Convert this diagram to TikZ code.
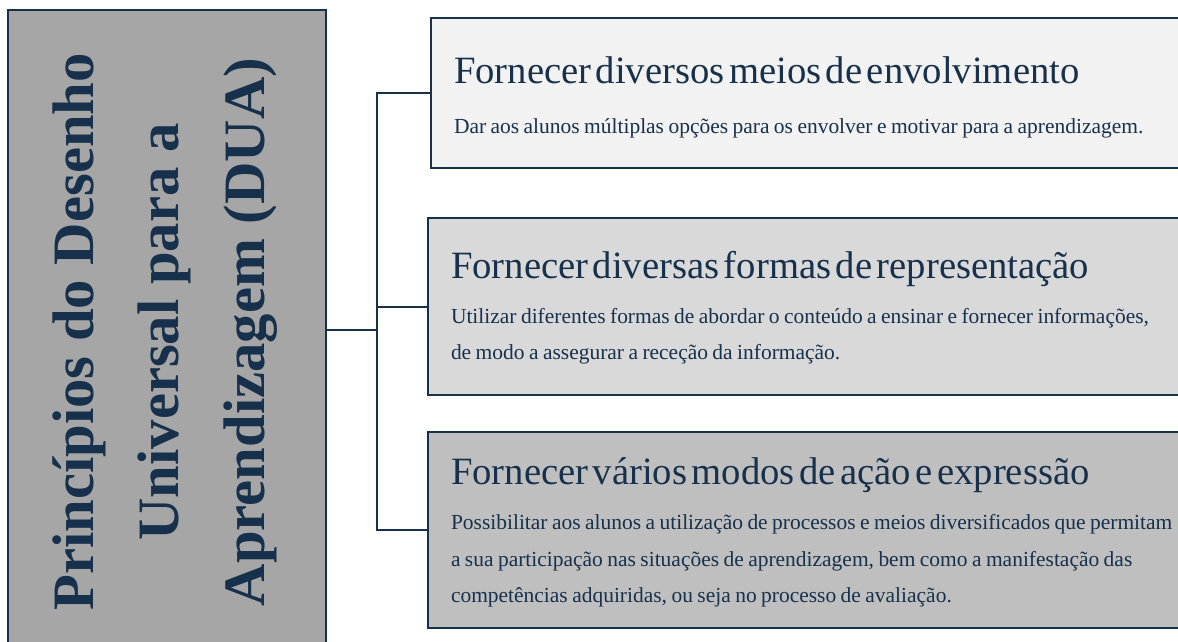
\documentclass[tikz,border=0pt]{standalone}
\usepackage{fontspec}
\setmainfont{Liberation Serif}
\newfontfamily\boxheadfont[WordSpace=1.6]{Liberation Serif}
\usetikzlibrary{positioning}

\definecolor{navy}{RGB}{23,49,76}
\definecolor{leadgray}{RGB}{166,166,166}
\definecolor{palegray}{RGB}{242,242,242}
\definecolor{midgray}{RGB}{217,217,217}
\definecolor{darkgray}{RGB}{191,191,191}

\newcommand{\boxhead}[2][6.3pt]{{\boxheadfont\fontsize{29}{33}\selectfont #2\par}\vspace{#1}}
\newcommand{\boxtext}[1]{{\fontsize{16.1}{27.4}\selectfont #1\par}}

\begin{document}
\begin{tikzpicture}[
  x=0.75pt, y=-0.75pt,
  every node/.style={text=navy},
  leadbox/.style={draw=navy, line width=1.5pt, fill=leadgray, minimum width=238.5pt, minimum height=480pt, inner sep=0pt},
  leadtitle/.style={rotate=90, align=center, font=\bfseries\fontsize{44}{64}\selectfont},
  box/.style={draw=navy, line width=1.5pt, anchor=west, inner xsep=17.25pt, inner ysep=0pt, text width=570pt, align=left},
  link/.style={draw=navy, line width=1.5pt}
]
\useasboundingbox (0,0) rectangle (1178,642);
\clip (0,0) rectangle (1178,642);

% Left
\node[leadbox] (lead) at (167,330) {};
\node[leadtitle] (leadtext) at (165,332) {Princípios do Desenho\\Universal para a\\Aprendizagem (DUA)};

% Right column
\node[box, fill=palegray, minimum height=112.5pt] (envolvimento) at (430,93)
  {\boxhead[10.1pt]{\rule{0pt}{26pt}Fornecer diversos meios de envolvimento}\boxtext{Dar aos alunos múltiplas opções para os envolver e motivar para a aprendizagem.}};
\node[box, fill=midgray, minimum height=132.75pt] (representacao) at (427,306.5)
  {\boxhead{\rule{0pt}{22pt}Fornecer diversas formas de representação}\boxtext{Utilizar diferentes formas de abordar o conteúdo a ensinar e fornecer informações,\\de modo a assegurar a receção da informação.}};
\node[box, fill=darkgray, minimum height=147pt] (acao) at (427,530)
  {\boxhead{\rule{0pt}{24pt}Fornecer vários modos de ação e expressão}\boxtext{Possibilitar aos alunos a utilização de processos e meios diversificados que permitam\\a sua participação nas situações de aprendizagem, bem como a manifestação das\\competências adquiridas, ou seja no processo de avaliação.}};

% Connectors
\coordinate (bus) at (377,330);
\draw[link] (lead.east) -- (bus);
\draw[link] (bus) |- (envolvimento.west);
\draw[link] (bus) |- (representacao.west);
\draw[link] (bus) |- (acao.west);

\end{tikzpicture}
\end{document}
